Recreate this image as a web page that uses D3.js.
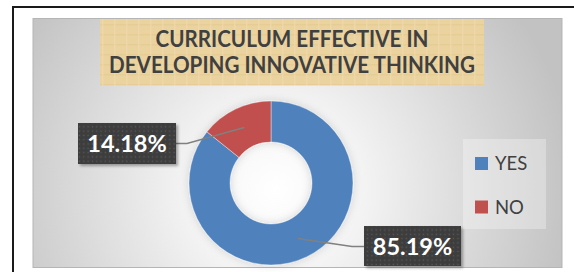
<!DOCTYPE html>
<html><head><meta charset="utf-8">
<script src="https://cdn.jsdelivr.net/npm/d3@7"></script>
<style>html,body{margin:0;padding:0;background:#fff;}svg{display:block;}</style>
</head><body>
<script>
const categories = ["YES", "NO"];
const values = [85.19, 14.18];
const valueLabels = ["85.19%", "14.18%"];
const titleLines = ["CURRICULUM EFFECTIVE IN", "DEVELOPING INNOVATIVE THINKING"];
const colors = ["#4f81bd", "#c0504d"];

const W = 574, H = 272;
const svg = d3.select("body").append("svg").attr("width", W).attr("height", H);
const defs = svg.append("defs");

// background gradient
const rg = defs.append("radialGradient").attr("id", "bg")
  .attr("gradientUnits", "userSpaceOnUse").attr("cx", 275).attr("cy", 190).attr("r", 300);
rg.append("stop").attr("offset", "0%").attr("stop-color", "#ffffff");
rg.append("stop").attr("offset", "30%").attr("stop-color", "#f3f3f3");
rg.append("stop").attr("offset", "100%").attr("stop-color", "#c2c2c2");

// title texture
const tp = defs.append("pattern").attr("id", "tex").attr("patternUnits", "userSpaceOnUse")
  .attr("width", 12).attr("height", 10);
tp.append("rect").attr("width", 12).attr("height", 10).attr("fill", "#ebd39f");
tp.append("rect").attr("x", 0).attr("y", 4).attr("width", 12).attr("height", 1.5).attr("fill", "#e3c98f").attr("opacity", 0.6);
tp.append("rect").attr("x", 6).attr("y", 0).attr("width", 1.5).attr("height", 10).attr("fill", "#f0dcae").attr("opacity", 0.6);

// dotted label pattern
const dp = defs.append("pattern").attr("id", "dots").attr("patternUnits", "userSpaceOnUse")
  .attr("width", 4.3).attr("height", 4.3);
dp.append("rect").attr("width", 4.3).attr("height", 4.3).attr("fill", "#3e3e3e");
dp.append("rect").attr("x", 1.5).attr("y", 1.5).attr("width", 1.2).attr("height", 1.2).attr("fill", "#5c5c5c");

const sh = defs.append("filter").attr("id", "shadow").attr("x", "-20%").attr("y", "-20%").attr("width", "150%").attr("height", "160%");
sh.append("feDropShadow").attr("dx", 2).attr("dy", 2).attr("stdDeviation", 1.5).attr("flood-color", "#000").attr("flood-opacity", 0.35);

const glow = defs.append("filter").attr("id", "glow").attr("x", "-30%").attr("y", "-30%").attr("width", "160%").attr("height", "160%");
glow.append("feDropShadow").attr("dx", 0).attr("dy", 0).attr("stdDeviation", 4).attr("flood-color", "#000").attr("flood-opacity", 0.15);

// outer chart border
svg.append("rect").attr("x", 13).attr("y", 7).attr("width", W + 10).attr("height", H + 10)
  .attr("fill", "#fff").attr("stroke", "#1a1a1a").attr("stroke-width", 2);

// plot area
svg.append("rect").attr("x", 33).attr("y", 18.5).attr("width", 529).attr("height", 249)
  .attr("fill", "url(#bg)").attr("stroke", "#b5b5b5").attr("stroke-width", 1);

// title box
svg.append("rect").attr("x", 100).attr("y", 19).attr("width", 384).attr("height", 66.5)
  .attr("fill", "url(#tex)");
const titleG = svg.append("g");
const titleBaselines = [47, 73];
titleLines.forEach((t, i) => {
  titleG.append("text")
    .attr("transform", `translate(292,${titleBaselines[i]}) scale(1,1.1)`)
    .attr("text-anchor", "middle")
    .attr("font-family", "Lato, 'Open Sans', sans-serif").attr("font-weight", "bold")
    .attr("font-size", 21).attr("fill", "#404040").text(t);
});
// fit title width
{
  const t2 = titleG.selectAll("text").nodes()[1];
  const w = t2.getComputedTextLength();
  const fs = 21 * 366 / w;
  titleG.selectAll("text").attr("font-size", fs);
}

// donut
const cx = 271, cy = 183, rOuter = 82, rInner = 41;
const pie = d3.pie().sort(null).value(d => d)(values);
const arc = d3.arc().innerRadius(rInner).outerRadius(rOuter);
const labelArc = d3.arc().innerRadius((rInner + rOuter) / 2).outerRadius((rInner + rOuter) / 2);
const g = svg.append("g").attr("transform", `translate(${cx},${cy})`);
g.append("g").attr("filter", "url(#glow)").selectAll("path").data(pie).join("path")
  .attr("d", arc).attr("fill", (d, i) => colors[i]).attr("stroke", "#fff").attr("stroke-width", 0.4);

// data labels
const boxes = [
  { x: 364, y: 226, w: 97, h: 40, elbow: [352, 246.5], end: [364, 246.5] },
  { x: 78, y: 123, w: 98, h: 41, elbow: [187, 143.5], end: [176, 143.5] }
];
pie.forEach((d, i) => {
  const b = boxes[i];
  const c = labelArc.centroid(d);
  svg.append("polyline")
    .attr("points", [[cx + c[0], cy + c[1]], b.elbow, b.end].map(p => p.join(",")).join(" "))
    .attr("fill", "none").attr("stroke", "#808080").attr("stroke-width", 1.5);
  svg.append("rect").attr("x", b.x).attr("y", b.y).attr("width", b.w).attr("height", b.h)
    .attr("fill", "url(#dots)").attr("filter", "url(#shadow)");
  svg.append("text").attr("x", b.x + b.w / 2).attr("y", b.y + b.h / 2 + 8.5)
    .attr("text-anchor", "middle")
    .attr("font-family", "Lato, 'Open Sans', sans-serif").attr("font-weight", "bold")
    .attr("font-size", 23.5).attr("fill", "#ffffff").text(valueLabels[i]);
});

// legend
svg.append("rect").attr("x", 463).attr("y", 139).attr("width", 83).attr("height", 90)
  .attr("fill", "#ffffff").attr("opacity", 0.3);
const lg = svg.append("g");
categories.forEach((c, i) => {
  const y = 157 + i * 43.5;
  lg.append("rect").attr("x", 475).attr("y", y).attr("width", 13).attr("height", 13).attr("fill", colors[i]);
  lg.append("text").attr("x", 495).attr("y", y + 13).attr("font-family", "Lato, 'Open Sans', sans-serif")
    .attr("font-size", 18.5).attr("fill", "#404040").text(c);
});
</script>
</body></html>
